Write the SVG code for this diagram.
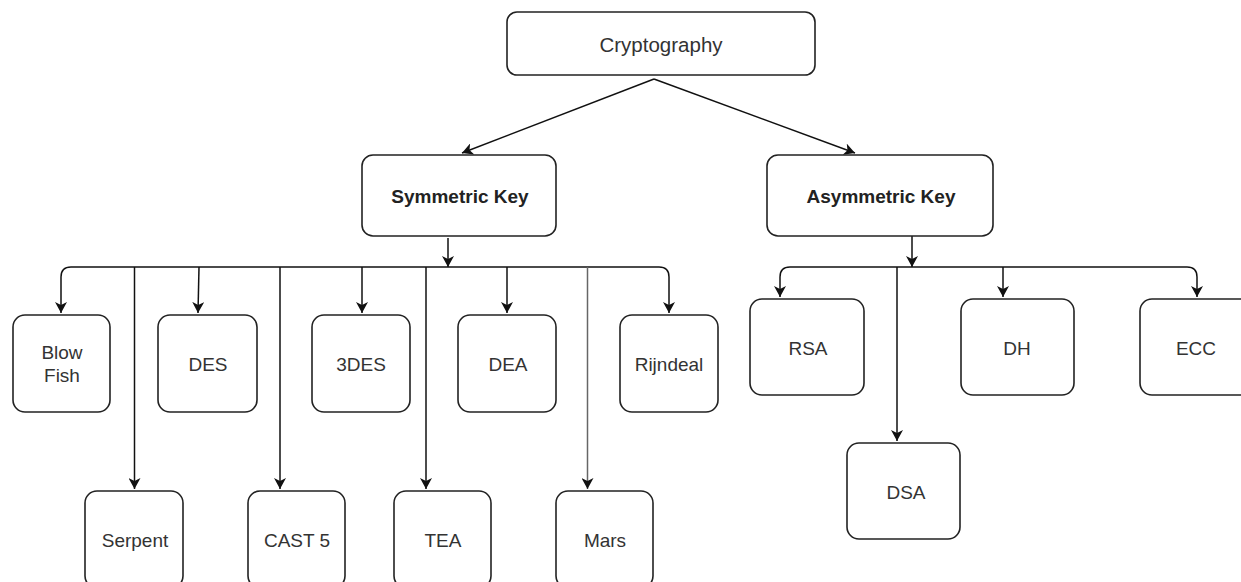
<svg xmlns="http://www.w3.org/2000/svg" width="1241" height="582" viewBox="0 0 1241 582">
<style>
.box{fill:#fff;stroke:#222;stroke-width:1.6}
.lbl{font-family:"Liberation Sans",Arial,sans-serif;font-size:19px;fill:#333;text-anchor:middle;dominant-baseline:central}
.bold{font-weight:bold;fill:#222}
.top{font-size:20.5px;fill:#333}
.edge{fill:none;stroke:#111;stroke-width:1.5;marker-end:url(#arr)}
.gray{stroke:#666}
</style>
<defs>
<marker id="arr" markerWidth="12" markerHeight="12" refX="11" refY="6" orient="auto" markerUnits="userSpaceOnUse">
<path d="M0,0 L11,6 L0,12 L3,6 z" fill="#111"/>
</marker>
</defs>
<rect width="1241" height="582" fill="#fff"/>
<g id="connectors">
<path class="edge" d="M654,79 L462,153"/>
<path class="edge" d="M654,79 L855,153"/>
<path class="edge" d="M448,238 V267"/>
<path class="edge" d="M448,267 H71 Q61,267 61,277 V313"/>
<path class="edge" d="M448,267 H659 Q669,267 669,277 V313"/>
<path class="edge" d="M199,267 L198,313"/>
<path class="edge" d="M362,267 V313"/>
<path class="edge" d="M507,267 V313"/>
<path class="edge" d="M134.5,267 V489"/>
<path class="edge" d="M280,267 V489"/>
<path class="edge" d="M426,267 V489"/>
<path class="edge gray" d="M587.5,267 V489"/>
<path class="edge" d="M912,236 V267"/>
<path class="edge" d="M912,267 H790 Q780,267 780,277 V297"/>
<path class="edge" d="M912,267 H1187 Q1197,267 1197,277 V297"/>
<path class="edge" d="M1003,267 V297"/>
<path class="edge" d="M897,267 V441"/>
</g>
<g id="cryptography"><rect class="box" x="507" y="12" width="308" height="63" rx="10"/><text class="lbl top" x="661" y="44">Cryptography</text></g>
<g id="symmetric"><rect class="box" x="362" y="155" width="194" height="81" rx="11"/><text class="lbl bold" x="460" y="196">Symmetric Key</text></g>
<g id="asymmetric"><rect class="box" x="767" y="155" width="226" height="81" rx="11"/><text class="lbl bold" x="881" y="196">Asymmetric Key</text></g>
<g id="blowfish"><rect class="box" x="13" y="315" width="97" height="97" rx="12"/><text class="lbl" x="62" y="352">Blow</text><text class="lbl" x="62" y="375">Fish</text></g>
<g id="des"><rect class="box" x="158" y="315" width="99" height="97" rx="12"/><text class="lbl" x="208" y="364">DES</text></g>
<g id="3des"><rect class="box" x="312" y="315" width="98" height="97" rx="12"/><text class="lbl" x="361" y="364">3DES</text></g>
<g id="dea"><rect class="box" x="458" y="315" width="98" height="97" rx="12"/><text class="lbl" x="508" y="364">DEA</text></g>
<g id="rijndeal"><rect class="box" x="620" y="315" width="98" height="97" rx="12"/><text class="lbl" x="669" y="364">Rijndeal</text></g>
<g id="serpent"><rect class="box" x="85" y="491" width="98" height="97" rx="12"/><text class="lbl" x="135" y="540">Serpent</text></g>
<g id="cast5"><rect class="box" x="248" y="491" width="97" height="97" rx="12"/><text class="lbl" x="297" y="540">CAST 5</text></g>
<g id="tea"><rect class="box" x="394" y="491" width="97" height="97" rx="12"/><text class="lbl" x="443" y="540">TEA</text></g>
<g id="mars"><rect class="box" x="556" y="491" width="97" height="97" rx="12"/><text class="lbl" x="605" y="540">Mars</text></g>
<g id="rsa"><rect class="box" x="750" y="299" width="114" height="96" rx="12"/><text class="lbl" x="808" y="348">RSA</text></g>
<g id="dh"><rect class="box" x="961" y="299" width="113" height="96" rx="12"/><text class="lbl" x="1017" y="348">DH</text></g>
<g id="ecc"><rect class="box" x="1140" y="299" width="114" height="96" rx="12"/><text class="lbl" x="1196" y="348">ECC</text></g>
<g id="dsa"><rect class="box" x="847" y="443" width="113" height="96" rx="12"/><text class="lbl" x="906" y="492">DSA</text></g>
</svg>
